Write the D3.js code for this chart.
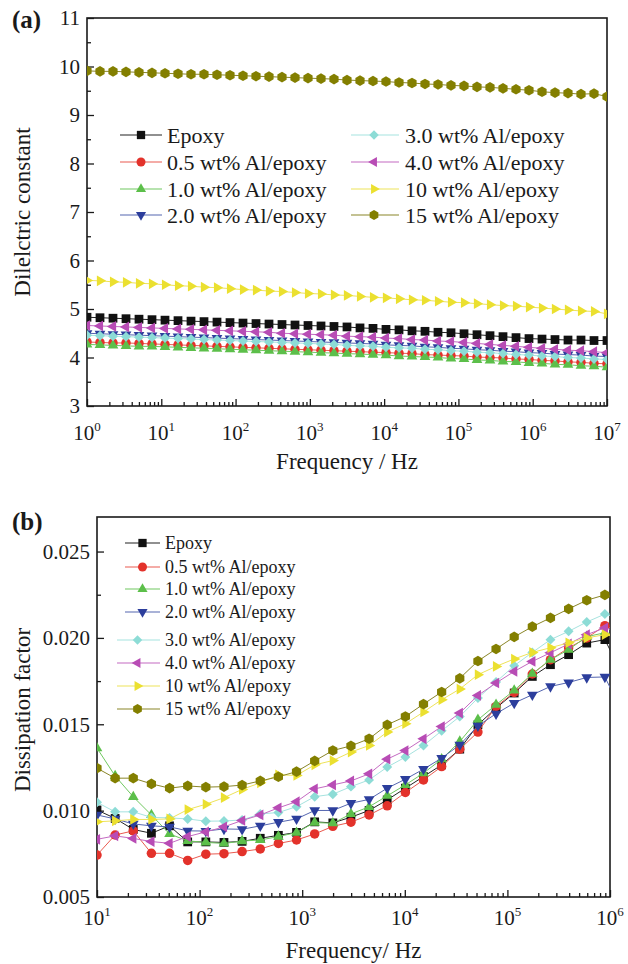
<!DOCTYPE html>
<html>
<head>
<meta charset="utf-8">
<script src="https://cdn.jsdelivr.net/npm/d3@7"></script>
<style>
    body { margin: 0; background: #fff; }
    svg text { font-family: "Liberation Serif", "Times New Roman", serif; fill: #1a1a1a; }
</style>
</head>
<body>
<div id="chart"></div>
<script>
// == DATA == //
const seriesNames = ['Epoxy', '0.5 wt% Al/epoxy', '1.0 wt% Al/epoxy', '2.0 wt% Al/epoxy',
    '3.0 wt% Al/epoxy', '4.0 wt% Al/epoxy', '10 wt% Al/epoxy', '15 wt% Al/epoxy'];

// (a) dielectric constant vs frequency (Hz)
const freqA = [1, 1.496, 2.239, 3.35, 5.012, 7.499, 11.22, 16.79, 25.12, 37.58,
    56.23, 84.14, 125.9, 188.4, 281.8, 421.7, 631, 944.1, 1413, 2113,
    3162, 4732, 7079, 10590, 15850, 23710, 35480, 53090, 79430, 118900,
    177800, 266100, 398100, 595700, 891300, 1334000, 1995000, 2985000, 4467000, 6683000,
    10000000];
const epoxyA = [4.83,4.82,4.81,4.80,4.79,4.78,4.77,4.76,4.75,4.74, 4.73,4.72,4.71,4.70,4.69,4.68,4.67,4.66,4.65,4.64,
    4.63,4.61,4.60,4.58,4.57,4.55,4.54,4.52,4.51,4.49, 4.47,4.45,4.43,4.41,4.39,4.38,4.37,4.36,4.36,4.35, 4.35];
const al05A = [4.32,4.31,4.30,4.30,4.29,4.28,4.27,4.26,4.25,4.24, 4.23,4.22,4.21,4.20,4.19,4.18,4.17,4.16,4.15,4.14,
    4.13,4.12,4.11,4.10,4.09,4.08,4.06,4.05,4.04,4.03, 4.01,4.00,3.99,3.97,3.96,3.94,3.93,3.91,3.90,3.88, 3.87];
const al10A = [4.27,4.26,4.25,4.24,4.23,4.23,4.22,4.21,4.20,4.19, 4.18,4.17,4.16,4.15,4.14,4.13,4.12,4.11,4.10,4.09,
    4.08,4.07,4.06,4.05,4.03,4.02,4.01,4.00,3.98,3.97, 3.95,3.94,3.92,3.91,3.89,3.88,3.86,3.85,3.83,3.82, 3.80];
const al20A = [4.50,4.49,4.48,4.47,4.46,4.45,4.44,4.43,4.42,4.41, 4.40,4.39,4.38,4.37,4.36,4.35,4.34,4.33,4.32,4.31,
    4.30,4.29,4.28,4.26,4.25,4.24,4.22,4.21,4.19,4.18, 4.16,4.15,4.13,4.12,4.10,4.09,4.07,4.06,4.05,4.03, 4.02];
const al30A = [4.46,4.45,4.44,4.43,4.42,4.41,4.40,4.39,4.38,4.37, 4.36,4.35,4.34,4.33,4.32,4.31,4.30,4.29,4.28,4.27,
    4.25,4.24,4.23,4.21,4.20,4.19,4.17,4.16,4.14,4.13, 4.11,4.10,4.08,4.06,4.05,4.03,4.02,4.00,3.99,3.97, 3.96];
const al40A = [4.66,4.65,4.64,4.63,4.62,4.61,4.60,4.59,4.58,4.57, 4.56,4.55,4.54,4.53,4.52,4.50,4.49,4.48,4.47,4.46,
    4.44,4.43,4.42,4.40,4.39,4.37,4.36,4.34,4.33,4.31, 4.29,4.27,4.25,4.23,4.21,4.19,4.17,4.15,4.14,4.12, 4.10];
const al100A = [5.59,5.58,5.56,5.55,5.53,5.52,5.50,5.48,5.47,5.45, 5.44,5.42,5.40,5.39,5.37,5.36,5.34,5.32,5.31,5.29,
    5.28,5.26,5.24,5.23,5.21,5.19,5.18,5.16,5.14,5.13, 5.11,5.09,5.07,5.06,5.04,5.02,5.00,4.98,4.96,4.95, 4.90];
const al150A = [9.91,9.90,9.90,9.89,9.88,9.87,9.86,9.85,9.84,9.84, 9.83,9.82,9.81,9.80,9.79,9.78,9.77,9.76,9.75,9.74,
    9.72,9.71,9.70,9.69,9.67,9.66,9.64,9.63,9.61,9.60, 9.58,9.57,9.55,9.53,9.51,9.48,9.46,9.45,9.43,9.44, 9.38];

// (b) dissipation factor vs frequency (Hz)
const freqB = [10, 15.02, 22.57, 33.91, 50.95, 76.55, 115, 172.8, 259.6, 390.1,
    586.1, 880.5, 1323, 1988, 2986, 4486, 6740, 10130, 15210, 22860,
    34340, 51600, 77520, 116500, 175000, 262900, 395000, 593400, 891500, 1339000];
const epoxyB = [.01004,.00955,.00891,.00869,.00912,.00819,.00819,.00816,.00822,.0084, .00857,.00874,.00935,.00929,.00962,
    .01001,.01062,.0113,.01197,.01265, .01356,.01497,.01594,.01681,.01777,.01845,.01903,.0197,.0199,.0178];
const al05B = [.00743,.00859,.00883,.00753,.00753,.00712,.00748,.00751,.00763,.00778, .0081,.0083,.00865,.00909,.00933,
    .00975,.01028,.01105,.01178,.01255, .01356,.01455,.01603,.01684,.01791,.01874,.01942,.0200,.02071,.0203];
const al10B = [.01362,.01201,.0108,.00975,.00865,.00825,.00816,.0081,.00824,.0083, .0085,.00873,.00931,.00927,.00981,
    .01022,.01086,.01149,.01217,.01298, .0140,.01526,.01613,.01696,.01793,.01874,.01932,.02007,.0203,.0200];
const al20B = [.00975,.00952,.00923,.00912,.00906,.00883,.00882,.00894,.00892,.00912, .00933,.00952,.01001,.01001,.01043,
    .01065,.0113,.01182,.0124,.01304, .01381,.01491,.01561,.01623,.01671,.01719,.01742,.01771,.01774,.0156];
const al30B = [.01048,.00993,.00993,.00961,.00958,.00952,.00939,.0094,.00946,.00981, .00989,.01023,.01081,.01095,.01139,
    .01178,.01252,.0131,.01377,.01462, .01545,.01652,.01745,.01839,.01916,.0199,.02038,.02092,.02138,.0211];
const al40B = [.00834,.00854,.00839,.00821,.00811,.0085,.00877,.00906,.00943,.00975, .01016,.01052,.01126,.01149,.01172,
    .01213,.01298,.01348,.01416,.01487, .01565,.01667,.01739,.01806,.01864,.01914,.01965,.02019,.02058,.0203];
const al100B = [.00935,.00941,.00949,.00949,.00952,.01006,.01037,.01075,.01123,.01161, .01207,.01204,.01265,.0129,.01339,
    .01377,.01455,.01503,.01571,.01642, .01704,.01787,.01835,.01878,.01916,.01943,.01972,.0200,.02019,.0200];
const al150B = [.01246,.01188,.01188,.01155,.0113,.01143,.01136,.01139,.01148,.01172, .01196,.01226,.01288,.01348,.01375,
    .01416,.01497,.01545,.01617,.01687, .01766,.01866,.01936,.02006,.02065,.02116,.02168,.02218,.02249,.0222];

const yTicksA = [3, 4, 5, 6, 7, 8, 9, 10, 11];
const yTicksB = [0.005, 0.010, 0.015, 0.020, 0.025];

// == STYLE == //
const markerColors = ['#111111', '#e3322b', '#5cbf4a', '#2c3e9c', '#8ddcd6', '#b84cb5', '#ebe030', '#837f00'];
const lineColors = ['#222222', '#ea5a50', '#70c860', '#5566b0', '#a6e3df', '#c46ac2', '#eee35a', '#8a8628'];
const markerKinds = ['square', 'circle', 'up', 'down', 'diamond', 'left', 'right', 'hexagon'];

function markerShape(kind, s) {
    // returns path + rotation for a marker about s px wide
    if (kind === 'square') return {d: d3.symbol(d3.symbolSquare, s * s * 0.85)(), rot: 0};
    if (kind === 'circle') return {d: d3.symbol(d3.symbolCircle, Math.PI * s * s / 4)(), rot: 0};
    if (kind === 'diamond') return {d: d3.symbol(d3.symbolSquare, s * s * 0.55)(), rot: 45};
    if (kind === 'hexagon') {
        let r = s * 0.56;
        let pts = d3.range(6).map(k => {
            let a = (-90 + 60 * k) * Math.PI / 180;
            return [r * Math.cos(a), r * Math.sin(a)];
        });
        return {d: 'M' + pts.join('L') + 'Z', rot: 0};
    }
    let tri = d3.symbol(d3.symbolTriangle, s * s * 0.55)();
    let rot = {up: 0, down: 180, left: -90, right: 90}[kind];
    return {d: tri, rot: rot};
}

class FreqChart {

    constructor(svg, cfg) {
        this.svg = svg;
        this.cfg = cfg;
        this.initVis();
    }

    initVis() {
        let vis = this;
        let c = vis.cfg;

        vis.x = d3.scaleLog().domain(c.xDomain).range([c.left, c.right]);
        vis.y = d3.scaleLinear().domain(c.yDomain).range([c.bottom, c.top]);

        vis.g = vis.svg.append('g').attr('class', c.id);

        vis.g.append('clipPath').attr('id', c.id + '-clip')
            .append('rect')
            .attr('x', c.left).attr('y', c.top)
            .attr('width', c.right - c.left).attr('height', c.bottom - c.top);

        // == TICKS == //
        let e0 = Math.round(Math.log10(c.xDomain[0]));
        let e1 = Math.round(Math.log10(c.xDomain[1]));
        let majorX = d3.range(e0, e1 + 1).map(e => Math.pow(10, e));
        let minorX = [];
        d3.range(e0, e1).forEach(e => d3.range(2, 10).forEach(m => minorX.push(m * Math.pow(10, e))));

        let tickStyle = sel => {
            sel.select('.domain').remove();
            sel.selectAll('line').attr('stroke', '#1a1a1a').attr('stroke-width', 1.3);
        };

        vis.g.append('g').attr('transform', `translate(0,${c.bottom})`)
            .call(d3.axisBottom(vis.x).tickValues(minorX).tickSize(-4).tickFormat(''))
            .call(tickStyle);
        vis.g.append('g').attr('transform', `translate(0,${c.bottom})`)
            .call(d3.axisBottom(vis.x).tickValues(majorX).tickSize(-7).tickFormat(''))
            .call(tickStyle);

        let minorY = c.yTicks.slice(0, -1).map((t, i) => (t + c.yTicks[i + 1]) / 2)
            .concat([c.yTicks[c.yTicks.length - 1] + (c.yTicks[1] - c.yTicks[0]) / 2])
            .filter(v => v <= c.yDomain[1]);
        vis.g.append('g').attr('transform', `translate(${c.left},0)`)
            .call(d3.axisLeft(vis.y).tickValues(minorY).tickSize(-4).tickFormat(''))
            .call(tickStyle);
        vis.g.append('g').attr('transform', `translate(${c.left},0)`)
            .call(d3.axisLeft(vis.y).tickValues(c.yTicks).tickSize(-7).tickFormat(''))
            .call(tickStyle);

        // tick labels
        vis.g.selectAll('.xlab').data(majorX).enter().append('text')
            .attr('class', 'xlab')
            .attr('x', d => vis.x(d))
            .attr('y', c.xLabelY)
            .attr('text-anchor', 'middle')
            .attr('font-size', '21px')
            .each(function(d) {
                let t = d3.select(this);
                t.append('tspan').text('10');
                t.append('tspan').attr('font-size', '13px').attr('dy', -9)
                    .text(Math.round(Math.log10(d)));
            });

        vis.g.selectAll('.ylab').data(c.yTicks).enter().append('text')
            .attr('class', 'ylab')
            .attr('x', c.left - 7)
            .attr('y', d => vis.y(d))
            .attr('dy', '0.35em')
            .attr('text-anchor', 'end')
            .attr('font-size', '21px')
            .text(c.yFormat);

        // frame
        vis.g.append('rect')
            .attr('x', c.left).attr('y', c.top)
            .attr('width', c.right - c.left).attr('height', c.bottom - c.top)
            .attr('fill', 'none').attr('stroke', '#1a1a1a').attr('stroke-width', 1.6);

        // titles
        vis.g.append('text')
            .attr('x', (c.left + c.right) / 2).attr('y', c.xTitleY)
            .attr('text-anchor', 'middle').attr('font-size', '23px')
            .text(c.xTitle);
        vis.g.append('text')
            .attr('transform', `translate(${c.yTitleX},${c.yTitleMid}) rotate(-90)`)
            .attr('text-anchor', 'middle').attr('font-size', '23px')
            .text(c.yTitle);
        vis.g.append('text')
            .attr('x', 12).attr('y', c.panelY)
            .attr('font-size', '25px').attr('font-weight', 'bold')
            .text(c.panel);

        vis.updateVis();
    }

    updateVis() {
        let vis = this;
        let c = vis.cfg;

        let plot = vis.g.append('g').attr('clip-path', `url(#${c.id}-clip)`);
        let line = d3.line().x(d => vis.x(d[0])).y(d => vis.y(d[1]));

        c.series.forEach((vals, i) => {
            let pts = vals.map((v, j) => [c.freq[j], v]);
            let shape = markerShape(markerKinds[i], c.markerSize);

            plot.append('path').datum(pts)
                .attr('fill', 'none')
                .attr('stroke', lineColors[i])
                .attr('stroke-width', 1)
                .attr('d', line);

            plot.selectAll(null).data(pts).enter().append('path')
                .attr('d', shape.d)
                .attr('transform', d => `translate(${vis.x(d[0])},${vis.y(d[1])}) rotate(${shape.rot})`)
                .attr('fill', markerColors[i]);
        });

        // legend
        let lg = vis.g.append('g').attr('class', 'legend');
        c.legend.forEach((e, i) => {
            let shape = markerShape(markerKinds[i], c.legendMarker);
            lg.append('line')
                .attr('x1', e.x1).attr('x2', e.x2).attr('y1', e.y).attr('y2', e.y)
                .attr('stroke', lineColors[i]).attr('stroke-width', 1.2);
            lg.append('path')
                .attr('d', shape.d)
                .attr('transform', `translate(${e.mx},${e.y}) rotate(${shape.rot})`)
                .attr('fill', markerColors[i]);
            lg.append('text')
                .attr('x', e.tx).attr('y', e.y).attr('dy', '0.35em')
                .attr('font-size', c.legendFont)
                .text(seriesNames[i]);
        });
    }
}

let svg = d3.select('#chart').append('svg')
    .attr('width', 628)
    .attr('height', 964);

let rowsA = [135, 162, 189, 215];
let legendA = seriesNames.map((n, i) => i < 4
    ? {x1: 120, x2: 162, mx: 141, tx: 167, y: rowsA[i % 4]}
    : {x1: 351, x2: 399, mx: 374, tx: 405, y: rowsA[i % 4]});

let rowsB = [543, 567, 589, 612, 640, 663, 686, 709];
let legendB = seriesNames.map((n, i) => i < 4
    ? {x1: 125, x2: 160, mx: 142.5, tx: 165, y: rowsB[i]}
    : {x1: 117, x2: 160, mx: 137.5, tx: 165, y: rowsB[i]});

new FreqChart(svg, {
    id: 'pa', panel: '(a)', panelY: 28,
    left: 87, right: 607, top: 18, bottom: 406,
    xDomain: [1, 1e7], yDomain: [3, 11],
    yTicks: yTicksA, yFormat: d3.format('d'),
    xLabelY: 440, xTitleY: 469, xTitle: 'Frequency / Hz',
    yTitleX: 30, yTitleMid: 212, yTitle: 'Dilelctric constant',
    freq: freqA,
    series: [epoxyA, al05A, al10A, al20A, al30A, al40A, al100A, al150A],
    markerSize: 9.5, legendMarker: 9, legend: legendA, legendFont: '22px'
});

new FreqChart(svg, {
    id: 'pb', panel: '(b)', panelY: 530,
    left: 97, right: 610, top: 517, bottom: 897,
    xDomain: [10, 1e6], yDomain: [0.005, 0.027],
    yTicks: yTicksB, yFormat: d3.format('.3f'),
    xLabelY: 925, xTitleY: 958, xTitle: 'Frequency/ Hz',
    yTitleX: 30, yTitleMid: 710, yTitle: 'Dissipation factor',
    freq: freqB,
    series: [epoxyB, al05B, al10B, al20B, al30B, al40B, al100B, al150B],
    markerSize: 9.5, legendMarker: 9, legend: legendB, legendFont: '18px'
});
</script>
</body>
</html>
